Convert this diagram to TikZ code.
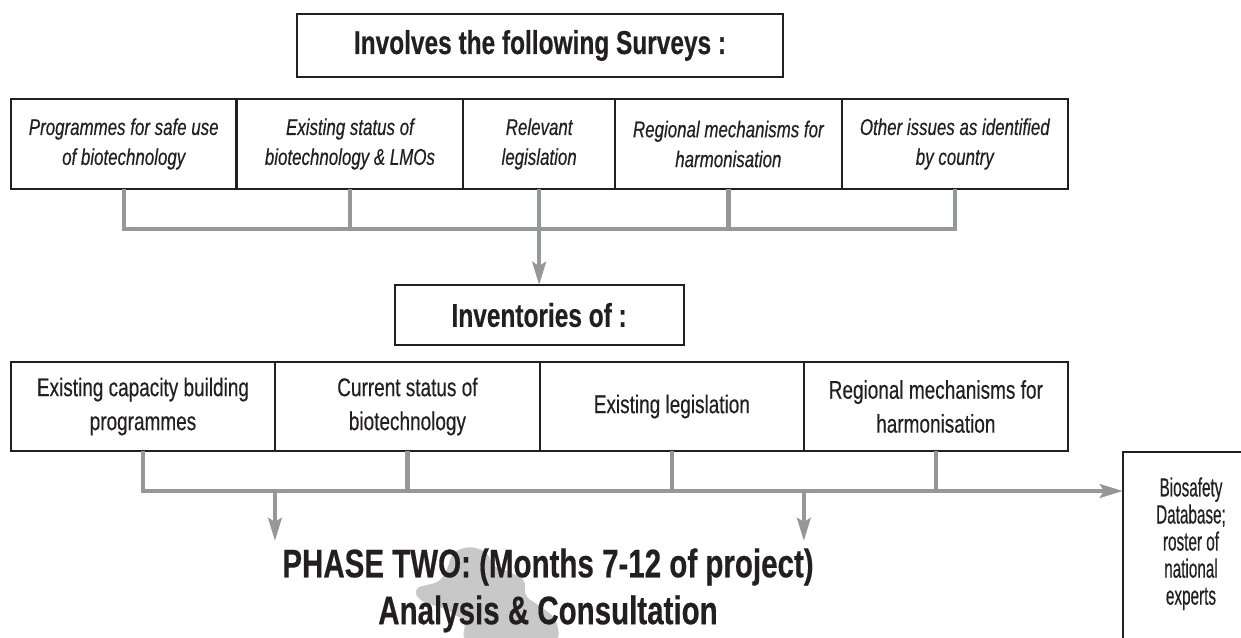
\documentclass[tikz,border=0pt]{standalone}
\usepackage{fontspec}
\usetikzlibrary{arrows.meta,positioning}
\newfontfamily\condsans{Liberation Sans}[FakeStretch=0.74, FakeBold=0.4]
\newfontfamily\narrowsans{Liberation Sans}[FakeStretch=0.58, FakeBold=0.4]
\definecolor{linegray}{RGB}{150,151,154}
\definecolor{inkblack}{RGB}{35,31,32}
\definecolor{blobgray}{RGB}{200,200,200}

\begin{document}
\begin{tikzpicture}[
    x=0.02cm, y=-0.02cm,
    box/.style={draw=inkblack, line width=1.2pt, outer sep=0pt, inner sep=2pt, align=center, text=inkblack},
    heading/.style={box, font=\condsans\fontsize{18.8}{22}\selectfont\bfseries},
    survey/.style={box, minimum height=1.8cm, font=\condsans\fontsize{13}{17}\selectfont\itshape},
    inventory/.style={box, minimum height=1.78cm, font=\condsans\fontsize{14.6}{19.3}\selectfont},
    conn/.style={draw=linegray, line width=2.5pt},
    arrow/.style={conn, -{Stealth[length=4.6mm, width=2.7mm, inset=0.8mm]}}
]
\useasboundingbox (0,0) rectangle (1241,637);
\clip (0,0) rectangle (1241,637);

% Top heading
\node[heading, minimum width=9.72cm, minimum height=1.26cm] (surveys) at (540,45.5) {Involves the following Surveys :};

% Survey topics, side by side
\node[survey, minimum width=4.51cm, anchor=west] (s1) at (11,144) {Programmes for safe use\\of biotechnology};
\node[survey, minimum width=4.54cm, right=0pt of s1] (s2) {Existing status of\\biotechnology \& LMOs};
\node[survey, minimum width=3.03cm, right=0pt of s2] (s3) {Relevant\\legislation};
\node[survey, minimum width=4.54cm, right=0pt of s3] (s4) {Regional mechanisms for\\harmonisation};
\node[survey, minimum width=4.52cm, right=0pt of s4] (s5) {Other issues as identified\\by country};

% Survey connectors
\coordinate (tj) at (540,229);
\draw[conn] (s1.south) -- (s1.south |- tj) -- (s5.south |- tj) -- (s5.south);
\foreach \n in {s2,s4} \draw[conn] (\n.south) -- (\n.south |- tj);

% Inventories heading
\coordinate (invtop) at (540,285);
\node[heading, minimum width=5.78cm, minimum height=1.2cm, anchor=north] (inv) at (s3.south |- invtop) {Inventories of :};
\draw[arrow] (s3.south) -- (inv.north);

% Inventory topics
\node[inventory, minimum width=5.28cm, anchor=west] (i1) at (11,406.5) {Existing capacity building\\programmes};
\node[inventory, minimum width=5.30cm, right=0pt of i1] (i2) {Current status of\\biotechnology};
\node[inventory, minimum width=5.28cm, right=0pt of i2] (i3) {Existing legislation};
\node[inventory, minimum width=5.28cm, right=0pt of i3] (i4) {Regional mechanisms for\\harmonisation};

% Database box (runs off the page)
\node[box, anchor=north west, minimum width=2.72cm, minimum height=4.4cm] (bio) at (1123,452) {};
\node[font=\narrowsans\fontsize{15}{15.4}\selectfont, align=center, anchor=north, inner sep=0pt, text=inkblack] (biotext) at ([yshift=-0.5cm]bio.north) {Biosafety\\Database;\\roster of\\national\\experts};

% Faint map silhouette behind the phase title
\fill[blobgray, rounded corners=4pt] (452,552) -- (470,546) -- (488,552) -- (492,566) -- (510,572) -- (526,580) -- (524,596) -- (540,606) -- (556,618) -- (560,640) -- (462,640) -- (466,622) -- (448,610) -- (418,600) -- (414,588) -- (440,582) -- (448,568) -- cycle;

% Phase title
\node[font=\condsans\fontsize{22.7}{26.7}\selectfont\bfseries, align=center, anchor=north, inner sep=4pt, text=inkblack] (phase) at (548,541) {PHASE TWO: (Months 7-12 of project)\\Analysis \& Consultation};

% Inventory connectors
\coordinate (bj) at (540,491);
\draw[arrow] (i1.south) -- (i1.south |- bj) -- (bio.west |- bj);
\foreach \n in {i2,i3,i4} \draw[conn] (\n.south) -- (\n.south |- bj);
\foreach \n in {i1,i3} \draw[arrow] (\n.south east |- bj) -- (\n.south east |- phase.north);

\end{tikzpicture}
\end{document}
